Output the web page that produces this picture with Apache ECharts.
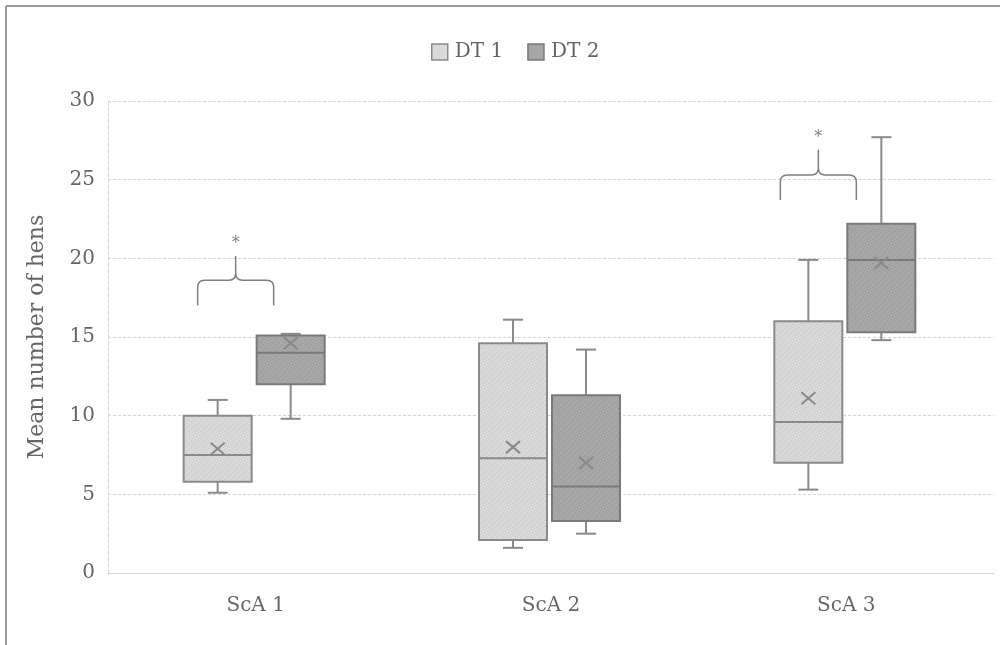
<!DOCTYPE html>
<html>
<head>
<meta charset="utf-8">
<script src="https://cdn.jsdelivr.net/npm/echarts@6/dist/echarts.min.js"></script>
<style>
  html, body { margin: 0; padding: 0; background: #fff; }
  #chart { width: 1000px; height: 645px; }
</style>
</head>
<body>
<div id="chart"></div>
<script>
// Mean number of hens per scenario area, two daytime periods
const categories = ['ScA 1', 'ScA 2', 'ScA 3'];
const seriesNames = ['DT 1', 'DT 2'];

// DT 1 five-number summaries and means
const dt1Min    = [5.1, 1.6, 5.3];
const dt1Q1     = [5.8, 2.1, 7.0];
const dt1Median = [7.5, 7.3, 9.6];
const dt1Q3     = [10.0, 14.6, 16.0];
const dt1Max    = [11.0, 16.1, 19.9];
const dt1Mean   = [7.9, 8.0, 11.1];

// DT 2 five-number summaries and means
const dt2Min    = [9.8, 2.5, 14.8];
const dt2Q1     = [12.0, 3.3, 15.3];
const dt2Median = [14.0, 5.5, 19.9];
const dt2Q3     = [15.1, 11.3, 22.2];
const dt2Max    = [15.2, 14.2, 27.7];
const dt2Mean   = [14.6, 7.0, 19.7];

// Significance braces: category, end level, bar level, peak level
const braceCategory = ['ScA 1', 'ScA 3'];
const braceEnd  = [17.0, 23.7];
const braceBar  = [18.6, 25.3];
const bracePeak = [20.15, 26.9];
const braceMark = ['*', '*'];

const yTicks = { min: 0, max: 30, interval: 5 };

function rows(mn, q1, md, q3, mx, mean) {
  return categories.map((c, i) => [i, mn[i], q1[i], md[i], q3[i], mx[i], mean[i]]);
}

const FONT = 'DejaVu Serif';
const TEXT = '#666666';
const LINE = '#8a8a8a';
const BOX_W = 68;
const CAP_W = 20;

// Stippled fill: a small tile of the base tone with a few darker specks
function stipple(base, speck) {
  const c = document.createElement('canvas');
  c.width = 6; c.height = 6;
  const g = c.getContext('2d');
  g.fillStyle = base; g.fillRect(0, 0, 6, 6);
  g.fillStyle = speck;
  [[0, 0], [3, 1], [1, 3], [4, 4], [5, 2], [2, 5]].forEach(p => g.fillRect(p[0], p[1], 1, 1));
  return { type: 'pattern', image: c, repeat: 'repeat' };
}

const fill1 = stipple('#dadada', '#c6c6c6');
const fill2 = stipple('#a8a8a8', '#949494');

function boxRenderer(shift, fill, border) {
  return function (params, api) {
    const c = api.value(0);
    const cx = api.coord([c, 0])[0] + shift;
    const y = v => api.coord([c, v])[1];
    const yMin = y(api.value(1)), yQ1 = y(api.value(2)), yMed = y(api.value(3));
    const yQ3 = y(api.value(4)), yMax = y(api.value(5)), yMean = y(api.value(6));
    const h = BOX_W / 2, k = CAP_W / 2, m = 7;
    const ln = (x1, y1, x2, y2, color, w) => ({
      type: 'line', shape: { x1, y1, x2, y2 },
      style: { stroke: color, lineWidth: w || 2 }
    });
    return {
      type: 'group',
      children: [
        ln(cx, yMax, cx, yQ3, LINE),
        ln(cx, yQ1, cx, yMin, LINE),
        ln(cx - k, yMax, cx + k, yMax, LINE),
        ln(cx - k, yMin, cx + k, yMin, LINE),
        {
          type: 'rect',
          shape: { x: cx - h, y: yQ3, width: BOX_W, height: yQ1 - yQ3 },
          style: { fill: fill, stroke: border, lineWidth: 2 }
        },
        ln(cx - h, yMed, cx + h, yMed, border),
        ln(cx - m, yMean - m + 1, cx + m, yMean + m - 1, LINE),
        ln(cx - m, yMean + m - 1, cx + m, yMean - m + 1, LINE)
      ]
    };
  };
}

const braceShift = [-20, -28];
const BRACE_HALF = 38;

function braceRenderer(params, api) {
  const i = params.dataIndex;
  const c = api.value(0);
  const cx = api.coord([c, 0])[0] + braceShift[i];
  const yEnd = api.coord([c, api.value(1)])[1];
  const yBar = api.coord([c, api.value(2)])[1];
  const yPeak = api.coord([c, api.value(3)])[1];
  const L = cx - BRACE_HALF, R = cx + BRACE_HALF, r = 7;
  const path =
    `M${L},${yEnd} L${L},${yBar + r} Q${L},${yBar} ${L + r},${yBar} ` +
    `L${cx - r},${yBar} Q${cx},${yBar} ${cx},${yBar - r} L${cx},${yPeak} ` +
    `M${R},${yEnd} L${R},${yBar + r} Q${R},${yBar} ${R - r},${yBar} ` +
    `L${cx + r},${yBar} Q${cx},${yBar} ${cx},${yBar - r}`;
  return {
    type: 'group',
    children: [
      { type: 'path', shape: { pathData: path }, style: { fill: null, stroke: '#7f7f7f', lineWidth: 1.5 } },
      {
        type: 'text', x: cx, y: yPeak - 4,
        style: { text: braceMark[i], fill: '#7f7f7f', font: `16px ${FONT}`, align: 'center', verticalAlign: 'bottom' }
      }
    ]
  };
}

const chart = echarts.init(document.getElementById('chart'), null, { renderer: 'canvas' });

chart.setOption({
  animation: false,
  backgroundColor: '#fff',
  textStyle: { fontFamily: FONT, color: TEXT },
  graphic: [
    { type: 'line', shape: { x1: 6, y1: 6, x2: 1000, y2: 6 }, style: { stroke: '#9a9a9a', lineWidth: 2 } },
    { type: 'line', shape: { x1: 6, y1: 6, x2: 6, y2: 645 }, style: { stroke: '#9a9a9a', lineWidth: 2 } }
  ],
  legend: {
    left: 426, top: 37,
    itemWidth: 16, itemHeight: 16, itemGap: 24,
    icon: 'rect',
    textStyle: { fontFamily: FONT, fontSize: 20, color: TEXT, padding: [0, 0, 0, 2] },
    data: [
      { name: seriesNames[0], itemStyle: { color: '#d9d9d9', borderColor: '#8a8a8a', borderWidth: 1.5 } },
      { name: seriesNames[1], itemStyle: { color: '#a6a6a6', borderColor: '#7a7a7a', borderWidth: 1.5 } }
    ]
  },
  grid: { left: 108, right: 6, top: 101, bottom: 72 },
  xAxis: {
    type: 'category',
    data: categories,
    axisLine: { lineStyle: { color: '#d4d4d4', width: 1 } },
    axisTick: { show: false },
    axisLabel: { fontFamily: FONT, fontSize: 20, color: TEXT, margin: 23 },
    splitLine: { show: false }
  },
  yAxis: {
    type: 'value',
    min: yTicks.min, max: yTicks.max, interval: yTicks.interval,
    name: 'Mean number of hens',
    nameLocation: 'middle',
    nameGap: 60,
    nameTextStyle: { fontFamily: FONT, fontSize: 22, color: TEXT },
    axisLine: { show: true, lineStyle: { color: '#d4d4d4', type: 'dashed', width: 1 } },
    axisTick: { show: false },
    axisLabel: { fontFamily: FONT, fontSize: 20, color: TEXT, margin: 13 },
    splitLine: { lineStyle: { color: '#d4d4d4', type: [3, 2], width: 1 } }
  },
  series: [
    {
      name: seriesNames[0], type: 'custom',
      itemStyle: { color: '#d9d9d9' },
      renderItem: boxRenderer(-38, fill1, '#8a8a8a'),
      encode: { x: 0, y: [1, 2, 3, 4, 5, 6] },
      data: rows(dt1Min, dt1Q1, dt1Median, dt1Q3, dt1Max, dt1Mean),
      z: 3
    },
    {
      name: seriesNames[1], type: 'custom',
      itemStyle: { color: '#a6a6a6' },
      renderItem: boxRenderer(35, fill2, '#7a7a7a'),
      encode: { x: 0, y: [1, 2, 3, 4, 5, 6] },
      data: rows(dt2Min, dt2Q1, dt2Median, dt2Q3, dt2Max, dt2Mean),
      z: 3
    },
    {
      name: 'brace', type: 'custom',
      renderItem: braceRenderer,
      encode: { x: 0, y: [1, 2, 3] },
      data: braceCategory.map((c, i) => [categories.indexOf(c), braceEnd[i], braceBar[i], bracePeak[i]]),
      z: 4
    }
  ]
});
</script>
</body>
</html>
